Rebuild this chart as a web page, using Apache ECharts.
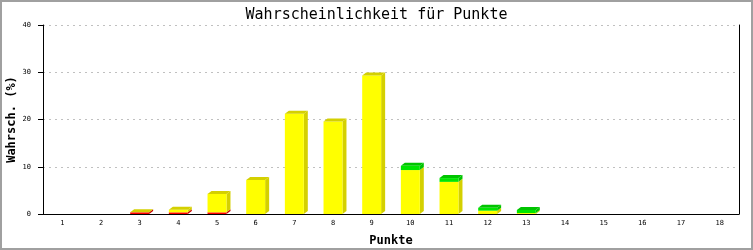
<!DOCTYPE html>
<html><head><meta charset="utf-8">
<script src="https://cdn.jsdelivr.net/npm/echarts@6/dist/echarts.min.js"></script>
<style>html,body{margin:0;padding:0;background:#fff}#c{width:753px;height:250px}</style>
</head><body><div id="c"></div>
<script>
const categories = ['1','2','3','4','5','6','7','8','9','10','11','12','13','14','15','16','17','18'];
const yellowVals = [0, 0, 0, 0.55, 3.9, 7.2, 21.2, 19.6, 29.3, 9.3, 6.8, 0.7, 0.2, 0, 0, 0, 0, 0];
const redVals    = [0, 0, 0.35, 0.35, 0.35, 0, 0, 0, 0, 0, 0, 0, 0, 0, 0, 0, 0, 0];
const greenVals  = [0, 0, 0, 0, 0, 0, 0, 0, 0, 0.9, 0.8, 0.6, 0.65, 0, 0, 0, 0, 0];
const yTicks = [0, 10, 20, 30, 40];

const YEL='#ffff00', YEL_D='#d4d000', RED='#ff0000', RED_D='#c80000', GRN='#00e600', GRN_D='#00c400';
const DX=4, DY=3;

function renderItem(params, api){
  const i = api.value(0);
  const vals = [api.value(1), api.value(2), api.value(3)];
  const cols = [[RED,RED_D],[YEL,YEL_D],[GRN,GRN_D]];
  const base = api.coord([i,0]);
  const bw = api.size([1,0])[0]*0.49;
  const x0 = base[0]-bw/2;
  const children = [];
  let cur = 0;
  for (let k=0;k<3;k++){
    const v = vals[k];
    if (!(v>0)) continue;
    const p0 = api.coord([i,cur])[1], p1 = api.coord([i,cur+v])[1];
    children.push({type:'polygon', shape:{points:[[x0+bw,p0],[x0+bw+DX,p0-DY],[x0+bw+DX,p1-DY],[x0+bw,p1]]}, style:{fill:cols[k][1]}});
    children.push({type:'rect', shape:{x:x0,y:p1,width:bw,height:p0-p1}, style:{fill:cols[k][0]}});
    cur += v;
  }
  if (cur>0){
    const pt = api.coord([i,cur])[1];
    const tc = vals[2]>0 ? GRN_D : YEL_D;
    children.push({type:'polygon', shape:{points:[[x0,pt],[x0+DX,pt-DY],[x0+bw+DX,pt-DY],[x0+bw,pt]]}, style:{fill:tc}});
  }
  return {type:'group', children};
}

const data = categories.map((c,i)=>[i, redVals[i], yellowVals[i], greenVals[i]]);
const chart = echarts.init(document.getElementById('c'), null, {renderer:'canvas'});
chart.setOption({
  animation:false,
  backgroundColor:'#fff',
  title:{text:'Wahrscheinlichkeit für Punkte', left:'center', top:3,
    textStyle:{fontFamily:'DejaVu Sans Mono', fontSize:15, fontWeight:'normal', color:'#000'}},
  graphic:[{type:'rect', shape:{x:1,y:1,width:751,height:248}, style:{fill:'none', stroke:'#a0a0a0', lineWidth:2}, z:100}],
  grid:{left:43, right:14, top:25, bottom:36, containLabel:false, outerBoundsMode:'none'},
  xAxis:{type:'category', data:categories, boundaryGap:true,
    name:'Punkte', nameLocation:'middle', nameGap:21, nameMoveOverlap:false,
    nameTextStyle:{fontFamily:'DejaVu Sans Mono', fontWeight:'bold', fontSize:12, color:'#000'},
    axisLine:{lineStyle:{color:'#000', width:1}}, axisTick:{show:false},
    axisLabel:{fontFamily:'DejaVu Sans Mono', fontSize:7, color:'#000', margin:6}},
  yAxis:[{type:'value', min:yTicks[0], max:yTicks[yTicks.length-1], interval:10,
    name:'Wahrsch. (%)', nameLocation:'middle', nameGap:25, nameMoveOverlap:false,
    nameTextStyle:{fontFamily:'DejaVu Sans Mono', fontWeight:'bold', fontSize:12, color:'#000'},
    axisLine:{show:true, lineStyle:{color:'#000', width:1}},
    axisTick:{show:true, length:5, lineStyle:{color:'#000'}},
    axisLabel:{fontFamily:'DejaVu Sans Mono', fontSize:7, color:'#000', margin:12},
    splitLine:{show:true, lineStyle:{color:'#c0c0c0', type:[2,4], width:1}}},
   {type:'value', min:0, max:40, interval:10, position:'right',
    axisLine:{show:true, lineStyle:{color:'#000', width:1}}, axisTick:{show:false}, axisLabel:{show:false}, splitLine:{show:false}}],
  series:[{type:'custom', renderItem, data, encode:{x:0, y:[1,2,3]}, clip:false}]
});
</script></body></html>
